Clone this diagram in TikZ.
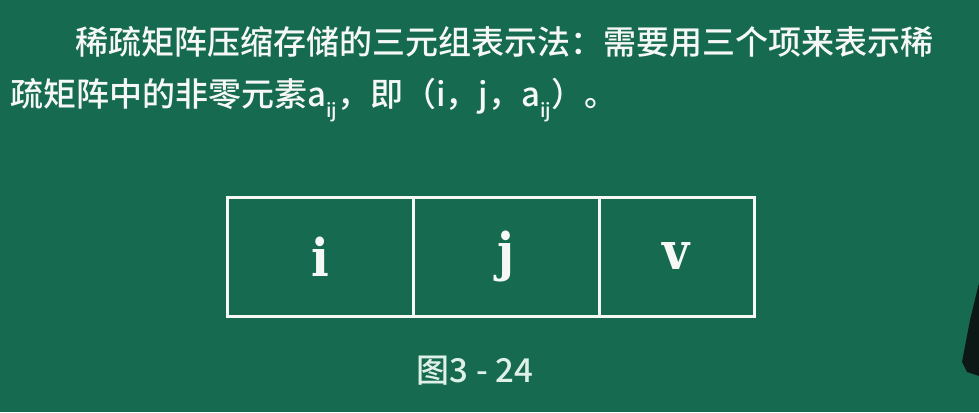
\documentclass[tikz,border=0pt]{standalone}
\usepackage{fontspec}
\setmainfont{Noto Sans CJK SC Medium}
\newfontfamily\cellfont{DejaVu Serif Condensed}
\definecolor{board}{RGB}{22,106,80}
\definecolor{chalk}{RGB}{246,248,246}
\definecolor{capchalk}{RGB}{222,240,232}
\definecolor{shadow}{RGB}{12,24,22}
\newcommand{\subij}{\raisebox{-0.35em}{\fontsize{19}{19}\selectfont ij}}
\tikzset{
  cellbox/.style={draw=chalk, line width=3pt, minimum height=119pt, inner sep=0pt, outer sep=0pt,
    font=\cellfont\bfseries\fontsize{52}{52}\selectfont, text=chalk},
  maintext/.style={font=\fontsize{33}{40}\selectfont, text=chalk, inner sep=0pt, anchor=west},
  captext/.style={font=\fontsize{33}{38}\selectfont, text=capchalk, inner sep=0pt}
}
\begin{document}
\begin{tikzpicture}[x=1pt,y=-1pt]
\fill[board] (0,0) rectangle (979,412);
\useasboundingbox (0,0) rectangle (979,412);
\node[maintext] (line1) at (75,42) {稀疏矩阵压缩存储的三元组表示法：需要用三个项来表示稀};
\node[maintext] (line2) at (10,100) {疏矩阵中的非零元素a\subij，即（i，j，a\subij）。};
\node[cellbox, minimum width=186pt] (ci) at (320,256.5) {i};
\node[cellbox, minimum width=186pt, anchor=west] (cj) at (ci.east) {j};
\node[cellbox, minimum width=155pt, anchor=west] (cv) at (cj.east) {v};
\node[captext] (cap) at (475,371) {图3 - 24};
\fill[shadow] (979,283) -- (970,320) -- (962,362) -- (967,372) -- (979,376) -- cycle;
\end{tikzpicture}
\end{document}
